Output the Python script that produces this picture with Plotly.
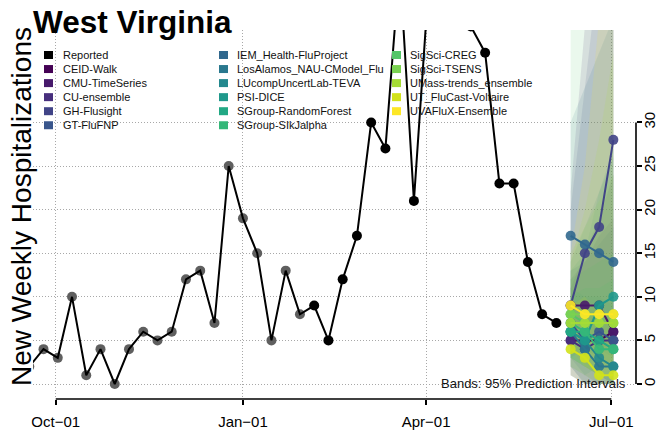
import plotly.graph_objects as go
import pandas as pd

# ---------------- data ----------------
report_dates = pd.date_range("2022-09-18", periods=38, freq="7D")
reported_values = [2, 4, 3, 10, 1, 4, 0, 4, 6, 5, 6, 12, 13, 7, 25, 19, 15, 5, 13, 8,
                   9, 5, 12, 17, 30, 27, 48, 21, 45, 52, 47, 41, 38, 23, 23, 14, 8, 7]
n_grey_points = 20  # earlier reported points drawn in grey

forecast_dates = pd.date_range("2023-06-11", periods=4, freq="7D")

models = ["CEID-Walk", "CMU-TimeSeries", "CU-ensemble", "GH-Flusight", "GT-FluFNP",
          "IEM_Health-FluProject", "LosAlamos_NAU-CModel_Flu", "LUcompUncertLab-TEVA",
          "PSI-DICE", "SGroup-RandomForest", "SGroup-SIkJalpha", "SigSci-CREG",
          "SigSci-TSENS", "UMass-trends_ensemble", "UT_FluCast-Voltaire", "UVAFluX-Ensemble"]
model_colors = ["#440154", "#481A6C", "#472F7D", "#414487", "#39568C", "#31688E",
                "#2A788E", "#23888E", "#1F988B", "#22A884", "#35B779", "#54C568",
                "#7AD151", "#A5DB36", "#D2E21B", "#FDE725"]

median = [
    [5, 5, 5, 6], [9, 9, 9, 6], [5, 4, 5, 5], [9, 15, 18, 28], [7, 5, 6, 5],
    [17, 16, 15, 14], [6, 4, 2, 2], [6, 5, 3, 2], [6, 5, 9, 10], [6, 6, 5, 4],
    [7, 6, 4, 4], [8, 7, 7, 7], [8, 8, 8, 8], [7, 7, 7, 7], [4, 3, 1, 1], [9, 8, 8, 8],
]
lower = [
    [1, 0, 0, 0], [4, 2, 1, 0], [2, 0, 0, 0], [3, 4, 3, 5], [3, 1, 0, 0],
    [8, 6, 4, 3], [1, 0, 0, 0], [2, 0, 0, 0], [2, 1, 2, 2], [3, 2, 1, 0],
    [3, 2, 1, 0], [3, 2, 1, 1], [3, 2, 1, 1], [2, 1, 0, 0], [1, 0, 0, 0], [4, 2, 1, 1],
]
upper = [
    [11, 15, 19, 24], [22, 40, 60, 80], [12, 14, 17, 19], [20, 35, 48, 70], [13, 14, 16, 18],
    [30, 34, 38, 42], [14, 18, 22, 26], [11, 10, 10, 9], [13, 15, 22, 27], [10, 11, 11, 12],
    [12, 13, 14, 15], [55, 65, 75, 85], [15, 18, 21, 24], [14, 20, 28, 38], [9, 10, 8, 8],
    [15, 25, 42, 60],
]

x_tick_vals = ["2022-10-01", "2023-01-01", "2023-04-01", "2023-07-01"]
x_tick_text = ["Oct\u221201", "Jan\u221201", "Apr\u221201", "Jul\u221201"]
y_tick_vals = [0, 5, 10, 15, 20, 25, 30]

# ---------------- layout geometry ----------------
W, H = 658, 433
PL, PR, PT, PB = 33, 636, 30, 399   # plot area in px
FONT = "Liberation Sans, Arial, Helvetica, sans-serif"


def px2x(px):
    return (px - PL) / (PR - PL)


def py2y(py):
    return (PB - py) / (PB - PT)


def rgba(h, a):
    h = h.lstrip("#")
    return "rgba(%d,%d,%d,%.3f)" % (int(h[0:2], 16), int(h[2:4], 16), int(h[4:6], 16), a)


fig = go.Figure()

# prediction bands
for m, c, lo, hi in zip(models, model_colors, lower, upper):
    fig.add_trace(go.Scatter(
        x=list(forecast_dates) + list(forecast_dates[::-1]),
        y=list(hi) + list(lo[::-1]),
        fill="toself", fillcolor=rgba(c, 0.12), mode="lines",
        line=dict(width=0, color=rgba(c, 0)), showlegend=False, hoverinfo="skip"))

# reported
fig.add_trace(go.Scatter(
    x=report_dates[:n_grey_points], y=reported_values[:n_grey_points], mode="markers",
    marker=dict(color="#5F5F5F", size=10), showlegend=False, hoverinfo="skip"))
fig.add_trace(go.Scatter(
    x=report_dates, y=reported_values, mode="lines",
    line=dict(color="black", width=2), showlegend=False))
fig.add_trace(go.Scatter(
    x=report_dates[n_grey_points:], y=reported_values[n_grey_points:], mode="markers",
    marker=dict(color="black", size=10), showlegend=False, hoverinfo="skip"))

# model medians
for m, c, med in zip(models, model_colors, median):
    fig.add_trace(go.Scatter(
        x=forecast_dates, y=med, mode="lines+markers", name=m,
        line=dict(color=c, width=2), marker=dict(color=c, size=10, opacity=0.9),
        showlegend=False))

# ---------------- custom legend (3 columns, column-major) ----------------
legend_names = ["Reported"] + models
legend_colors = ["#000000"] + model_colors
swatch_left = [44, 219, 392]
text_left = [62, 236, 409]
row_top, row_step = 55, 14.05
shapes = []
annotations = []
for i, (nm, col) in enumerate(zip(legend_names, legend_colors)):
    c_i, r_i = i // 6, i % 6
    cy = row_top + r_i * row_step
    shapes.append(dict(type="rect", xref="paper", yref="paper",
                       x0=px2x(swatch_left[c_i]), x1=px2x(swatch_left[c_i] + 9),
                       y0=py2y(cy + 4), y1=py2y(cy - 4),
                       fillcolor=col, line=dict(width=0), layer="above"))
    annotations.append(dict(text=nm, xref="paper", yref="paper",
                            x=px2x(text_left[c_i]), y=py2y(cy), xanchor="left",
                            yanchor="middle", showarrow=False, borderpad=0,
                            font=dict(family=FONT, size=11, color="#111111")))

# axis lines spanning first..last tick (R style)
shapes.append(dict(type="line", xref="x", yref="paper", x0=x_tick_vals[0], x1=x_tick_vals[-1],
                   y0=0, y1=0, line=dict(color="black", width=1.6), layer="above"))
shapes.append(dict(type="line", xref="paper", yref="y", x0=1, x1=1,
                   y0=y_tick_vals[0], y1=y_tick_vals[-1], line=dict(color="black", width=1.6),
                   layer="above"))

# titles / notes
annotations.append(dict(text="<b>West Virginia</b>", xref="paper", yref="paper",
                        x=px2x(31), y=py2y(22), xanchor="left", yanchor="middle",
                        showarrow=False, font=dict(family=FONT, size=31.5, color="black")))
annotations.append(dict(text="New Weekly Hospitalizations", xref="paper", yref="paper",
                        x=px2x(22), y=py2y(207), xanchor="center", yanchor="middle",
                        textangle=-90, showarrow=False,
                        font=dict(family=FONT, size=28, color="black")))
annotations.append(dict(text="Bands: 95% Prediction Intervals", xref="paper", yref="paper",
                        x=px2x(627), y=py2y(383.5), xanchor="right", yanchor="middle",
                        showarrow=False, borderpad=0,
                        font=dict(family=FONT, size=13, color="#111111")))

fig.update_layout(
    width=W, height=H,
    margin=dict(l=PL, r=W - PR, t=PT, b=H - PB, pad=0, autoexpand=False),
    paper_bgcolor="white", plot_bgcolor="white",
    showlegend=False,
    shapes=shapes, annotations=annotations,
    xaxis=dict(type="date", range=["2022-09-19 20:00", "2023-07-13 03:00"],
               tickvals=x_tick_vals, ticktext=x_tick_text,
               ticks="outside", ticklen=5, tickwidth=1.6, tickcolor="black",
               showline=False, zeroline=False, automargin=False,
               showgrid=True, gridcolor="#A8A8A8", gridwidth=1, griddash="1px,2px",
               tickfont=dict(family=FONT, size=15, color="black"), ticklabelstandoff=4),
    yaxis=dict(side="right", range=[-1.72, 40.6], tickvals=y_tick_vals,
               ticks="outside", ticklen=5, tickwidth=1.6, tickcolor="black",
               tickangle=-90, showline=False, zeroline=False, automargin=False,
               showgrid=True, gridcolor="#A8A8A8", gridwidth=1, griddash="1px,2px",
               tickfont=dict(family=FONT, size=15, color="black"), ticklabelstandoff=-5),
)

fig.write_html("out.html", config={"displayModeBar": False},
               post_script="document.body.style.margin='0';document.body.style.overflow='hidden';")
